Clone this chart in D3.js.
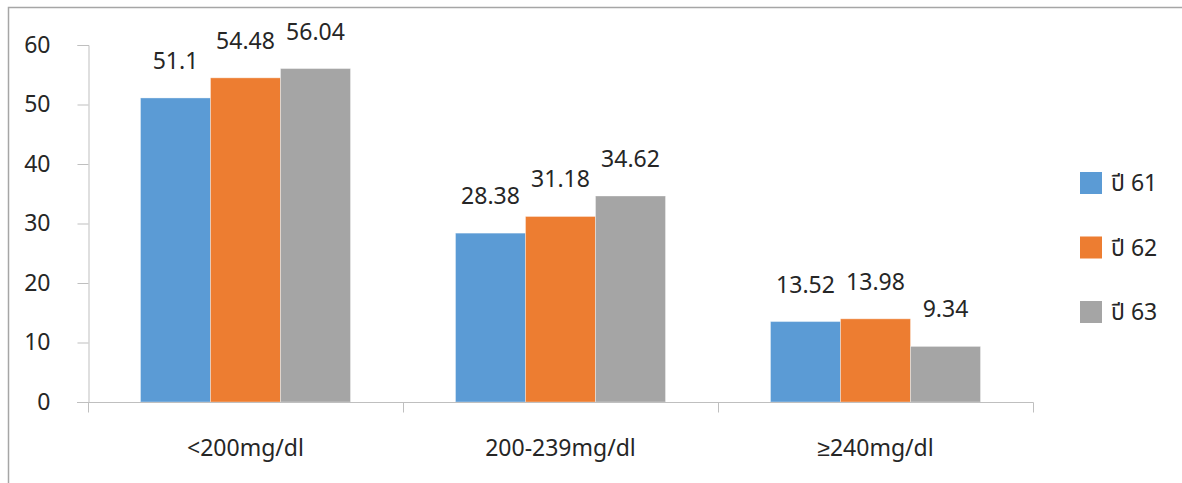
<!DOCTYPE html>
<html><head><meta charset="utf-8">
<script src="https://cdn.jsdelivr.net/npm/d3@7"></script>
<style>
body{margin:0;background:#fff;}
text{font-family:"Noto Sans","Noto Sans Thai","Leelawadee UI",sans-serif;fill:#262626;}
</style></head>
<body><svg id="c" width="1182" height="483"></svg>
<script>
const categories = ["<200mg/dl","200-239mg/dl","≥240mg/dl"];
const seriesNames = ["ปี 61","ปี 62","ปี 63"];
const v61 = [51.1, 28.38, 13.52];
const v62 = [54.48, 31.18, 13.98];
const v63 = [56.04, 34.62, 9.34];
const yTicks = [0,10,20,30,40,50,60];
const colors = ["#5B9BD5","#ED7D31","#A5A5A5"];
const series = [v61, v62, v63];

(function(){
const FS = 23;
const svg = d3.select("#c");
svg.append("path").attr("d","M8.5,483 V7.5 H1182").attr("fill","none").attr("stroke","#a6a6a6").attr("stroke-width",1.5);

const pL=88, pR=1033, pT=45, pB=402;
const y = d3.scaleLinear().domain([0,60]).range([pB, pT]);
const x0 = d3.scaleBand().domain(categories).range([pL,pR]).paddingInner(1/3).paddingOuter(1/6);
const x1 = d3.scaleBand().domain(d3.range(series.length)).range([0, x0.bandwidth()]);
const xEdge = d3.scaleBand().domain(categories).range([pL,pR]).padding(0);

const axisColor = "#BFBFBF";
const yAxis = svg.append("g").attr("transform",`translate(${pL+0.5},0)`)
  .call(d3.axisLeft(y).tickValues(yTicks).tickSize(11).tickPadding(27).tickFormat(d3.format("d")));
yAxis.select(".domain").attr("stroke",axisColor);
yAxis.selectAll(".tick line").attr("stroke",axisColor);
yAxis.selectAll("text").attr("font-size",FS).style("fill","#262626");

categories.forEach((c,ci)=>{
  series.forEach((s,si)=>{
    svg.append("rect")
      .attr("x", x0(c)+x1(si))
      .attr("y", y(s[ci]))
      .attr("width", x1.bandwidth())
      .attr("height", y(0)-y(s[ci]))
      .attr("fill", colors[si])
      .attr("stroke","#ffffff").attr("stroke-opacity",0.35).attr("stroke-width",1);
    svg.append("text")
      .attr("x", x0(c)+x1(si)+x1.bandwidth()/2)
      .attr("y", y(s[ci])-29)
      .attr("text-anchor","middle")
      .attr("font-size",FS)
      .text(s[ci]);
  });
});

const xg = svg.append("g").attr("transform",`translate(0,${pB+0.5})`);
xg.append("line").attr("x1",pL-11).attr("x2",pR+0.5).attr("stroke",axisColor);
const edges = categories.map(c=>xEdge(c)).concat([xEdge(categories[categories.length-1])+xEdge.bandwidth()]);
xg.selectAll("line.t").data(edges).enter().append("line").attr("class","t")
  .attr("x1",d=>Math.round(d)+0.5).attr("x2",d=>Math.round(d)+0.5).attr("y1",0).attr("y2",10).attr("stroke",axisColor);
xg.selectAll("text").data(categories).enter().append("text")
  .attr("x",d=>x0(d)+x0.bandwidth()/2).attr("y",53)
  .attr("text-anchor","middle").attr("font-size",FS).text(d=>d);

const lg = svg.append("g");
seriesNames.forEach((n,i)=>{
  const ly = 172 + i*64.5;
  lg.append("rect").attr("x",1080).attr("y",ly).attr("width",22).attr("height",22).attr("fill",colors[i]);
  lg.append("text").attr("x",1111).attr("y",ly+19).attr("font-size",FS).text(n);
});
})();
</script></body></html>
